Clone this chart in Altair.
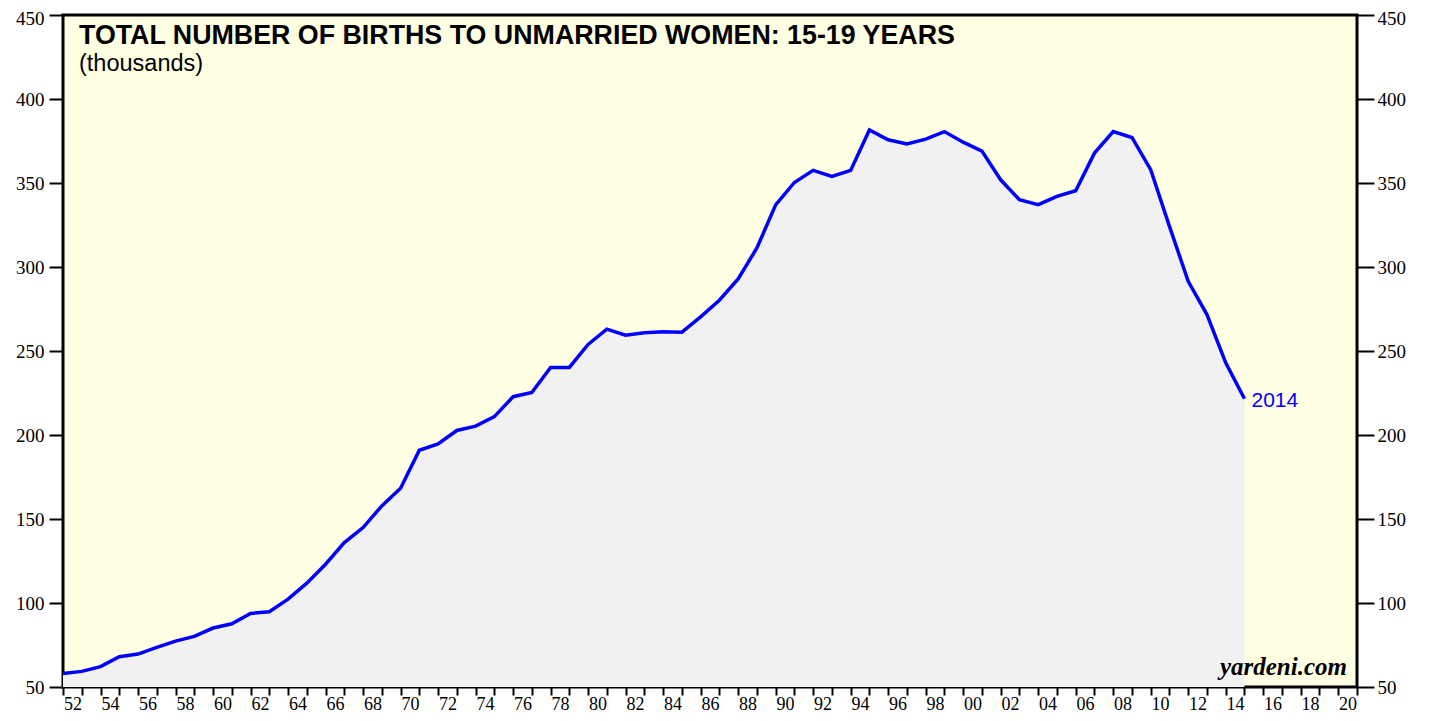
import altair as alt
import pandas as pd

# ---- data ----
years = list(range(1951, 2015))
births = [58.1, 59.3, 62.1, 68.0, 69.6, 73.6, 77.3, 80.1, 85.1, 87.6,
          93.8, 94.8, 102.3, 111.8, 123.1, 136.0, 144.9, 157.8, 168.3, 190.9,
          194.7, 202.7, 205.3, 210.9, 222.8, 225.3, 240.2, 240.2, 253.9, 263.0,
          259.4, 260.8, 261.4, 261.2, 270.3, 280.2, 292.9, 311.3, 337.0, 350.3,
          357.5, 353.9, 357.5, 381.6, 375.7, 373.3, 376.1, 380.6, 374.3, 369.0,
          351.9, 340.0, 337.1, 342.0, 345.4, 367.8, 380.6, 377.1, 357.9, 324.2,
          291.5, 271.7, 243.0, 221.6]
axis_years = list(range(1951, 2021))
y_ticks = [50, 100, 150, 200, 250, 300, 350, 400, 450]
title_text = "TOTAL NUMBER OF BIRTHS TO UNMARRIED WOMEN: 15-19 YEARS"
subtitle_text = "(thousands)"
source_text = "yardeni.com"
end_label = "2014"

W, H = 1294, 672
BG = "#FFFFE3"
AREA = "#F1F1F1"
BLUE = "#0000FF"

df = pd.DataFrame({"year": years, "births": births})
last = df.tail(1).assign(label=end_label)

x_scale = alt.Scale(domain=[1951, 2020], nice=False, zero=False)
y_scale = alt.Scale(domain=[50, 450], nice=False, zero=False)
half_year_px = W / (2020 - 1951) / 2

yaxis_common = dict(values=y_ticks, tickWidth=2, tickColor="black",
                    labelFont="Liberation Serif", labelFontSize=19, labelColor="black",
                    labelOffset={"condition": {"test": "datum.value == 450", "value": 3}, "value": 0},
                    domain=False, grid=False, title=None)

area = alt.Chart(df).mark_area(color=AREA, opacity=1).encode(
    x=alt.X("year:Q", scale=x_scale, axis=None),
    y=alt.Y("births:Q", scale=y_scale,
            axis=alt.Axis(orient="left", tickSize=14, labelPadding=5, **yaxis_common)),
    y2=alt.datum(50),
)

line = alt.Chart(df).mark_line(color=BLUE, strokeWidth=3.5, strokeJoin="miter").encode(
    x=alt.X("year:Q", scale=x_scale, axis=None),
    y=alt.Y("births:Q", scale=y_scale,
            axis=alt.Axis(orient="right", tickSize=17, labelPadding=3, **yaxis_common)),
)

label = alt.Chart(last).mark_text(
    color=BLUE, font="Liberation Sans", fontSize=21, align="left", baseline="middle", dx=7, dy=2
).encode(
    x=alt.X("year:Q", scale=x_scale, axis=None),
    y=alt.Y("births:Q", scale=y_scale, axis=None),
    text="label:N",
)

xaxis = alt.Chart(pd.DataFrame({"year": axis_years})).mark_point(opacity=0).encode(
    x=alt.X("year:Q", scale=x_scale,
            axis=alt.Axis(orient="bottom", values=axis_years, tickSize=8, tickWidth=2,
                          tickColor="black", domain=False, grid=False, title=None,
                          labelFont="Liberation Serif", labelFontSize=18, labelColor="black",
                          labelPadding=0, labelFlush=False, labelBound=False,
                          labelOffset=-half_year_px, labelOverlap=False,
                          labelExpr="datum.value % 2 == 0 ? ((datum.value % 100 < 10 ? '0' : '') + (datum.value % 100)) : ''")),
    y=alt.value(0),
)

title = alt.Chart(pd.DataFrame({"t": [title_text]})).mark_text(
    font="Liberation Sans", fontSize=26.8, fontWeight="bold", align="left", baseline="alphabetic", color="black"
).encode(text="t:N", x=alt.value(16), y=alt.value(29))

subtitle = alt.Chart(pd.DataFrame({"t": [subtitle_text]})).mark_text(
    font="Liberation Sans", fontSize=23.5, align="left", baseline="alphabetic", color="black"
).encode(text="t:N", x=alt.value(16), y=alt.value(56))

source = alt.Chart(pd.DataFrame({"t": [source_text]})).mark_text(
    font="Liberation Serif", fontSize=25, fontWeight="bold", fontStyle="italic",
    align="right", baseline="alphabetic", color="black"
).encode(text="t:N", x=alt.value(W - 10), y=alt.value(H - 12))

chart = alt.layer(xaxis, area, line, label, title, subtitle, source).resolve_scale(
    x="independent", y="independent"
).properties(
    width=W, height=H,
    background="white",
    autosize=alt.AutoSizeParams(type="none"),
    padding={"left": 55, "top": 7, "right": 64, "bottom": 26},
).configure_view(
    fill=BG, stroke="black", strokeWidth=3
)

chart.save("out.html", embed_options={"renderer": "svg", "actions": False})
